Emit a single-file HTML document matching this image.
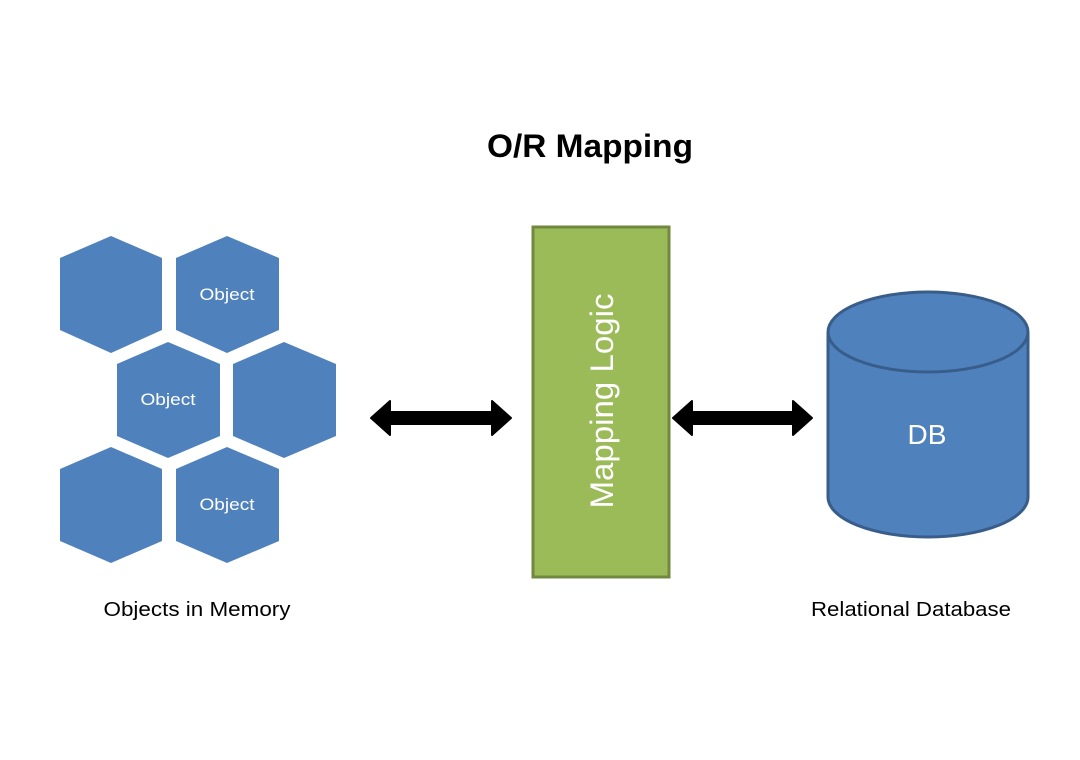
<!DOCTYPE html>
<html><head><meta charset="utf-8"><style>
html,body{margin:0;padding:0;background:#fff;}
svg{display:block;}
</style></head><body>
<svg width="1080" height="760" viewBox="0 0 1080 760" xmlns="http://www.w3.org/2000/svg">
<text x="590" y="157" text-anchor="middle" font-family="Liberation Sans, sans-serif" font-weight="bold" font-size="32" fill="#000" textLength="206" lengthAdjust="spacingAndGlyphs">O/R Mapping</text>
<g fill="#4f81bd">
<polygon points="111,236 162,258 162,330 111,353 60,330 60,258"/>
<polygon points="227,236 279,258 279,330 227,353 176,330 176,258"/>
<polygon points="168,342 220,364 220,436 168,458 117,436 117,364"/>
<polygon points="284,342 336,364 336,436 284,458 233,436 233,364"/>
<polygon points="111,447 162,469 162,541 111,563 60,541 60,469"/>
<polygon points="227,447 279,469 279,541 227,563 176,541 176,469"/>
</g>
<g font-family="Liberation Sans, sans-serif" font-size="17" fill="#fff" text-anchor="middle">
<text x="227" y="300" textLength="55" lengthAdjust="spacingAndGlyphs">Object</text>
<text x="168" y="405" textLength="55" lengthAdjust="spacingAndGlyphs">Object</text>
<text x="227" y="510" textLength="55" lengthAdjust="spacingAndGlyphs">Object</text>
</g>
<text x="197" y="616" text-anchor="middle" font-family="Liberation Sans, sans-serif" font-size="20" fill="#000" textLength="187" lengthAdjust="spacingAndGlyphs">Objects in Memory</text>
<rect x="533" y="227" width="136" height="350" fill="#9bbb59" stroke="#71893f" stroke-width="3"/>
<text transform="translate(613,401) rotate(-90)" text-anchor="middle" font-family="Liberation Sans, sans-serif" font-size="32" fill="#fff" textLength="215" lengthAdjust="spacingAndGlyphs">Mapping Logic</text>
<g fill="#000" stroke="#000" stroke-width="2" stroke-linejoin="round">
<polygon points="371,418 390,401 390,412 492,412 492,401 511,418 492,435 492,424 390,424 390,435"/>
<polygon points="673,418 692,401 692,412 793,412 793,401 812,418 793,435 793,424 692,424 692,435"/>
</g>
<path d="M828,332 L828,497 A100,40 0 0 0 1028,497 L1028,332" fill="#4f81bd" stroke="#385d8a" stroke-width="3"/>
<ellipse cx="928" cy="332" rx="100" ry="40" fill="#4f81bd" stroke="#385d8a" stroke-width="3"/>
<text x="927" y="444" text-anchor="middle" font-family="Liberation Sans, sans-serif" font-size="28" fill="#fff">DB</text>
<text x="911" y="616" text-anchor="middle" font-family="Liberation Sans, sans-serif" font-size="20" fill="#000" textLength="200" lengthAdjust="spacingAndGlyphs">Relational Database</text>
</svg>
</body></html>
